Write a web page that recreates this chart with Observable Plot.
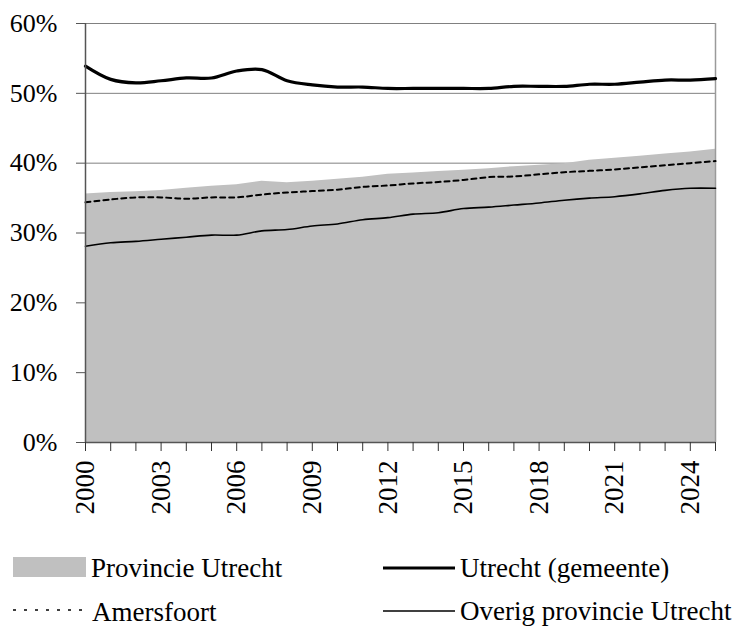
<!DOCTYPE html>
<html>
<head>
<meta charset="utf-8">
<script src="https://cdn.jsdelivr.net/npm/d3@7"></script>
<script src="https://cdn.jsdelivr.net/npm/@observablehq/plot@0.6"></script>
<style>
  html, body { margin: 0; padding: 0; background: white; }
  #wrap { position: relative; width: 737px; height: 627px; font-family: "Liberation Serif", serif; }
  #chart { position: absolute; left: 0; top: 0; }
  #legend { position: absolute; left: 0; top: 0; }
  #chart svg text { font-family: "Liberation Serif", serif; }
</style>
</head>
<body>
<div id="wrap">
  <div id="chart"></div>
  <svg id="legend" width="737" height="627" style="pointer-events:none"></svg>
</div>
<script>
const years = [2000,2001,2002,2003,2004,2005,2006,2007,2008,2009,2010,2011,2012,2013,2014,2015,2016,2017,2018,2019,2020,2021,2022,2023,2024,2025];
const labelYears = [2000,2003,2006,2009,2012,2015,2018,2021,2024];
const yTicks = [0,10,20,30,40,50,60];
const provincie = [35.6,35.8,35.9,36.1,36.4,36.7,36.9,37.4,37.2,37.4,37.7,38.0,38.4,38.6,38.8,39.0,39.2,39.5,39.7,39.9,40.4,40.7,41.0,41.3,41.6,42.0];
const utrecht   = [53.9,52.0,51.5,51.8,52.2,52.2,53.2,53.4,51.8,51.2,50.9,50.9,50.7,50.7,50.7,50.7,50.7,51.0,51.0,51.0,51.3,51.3,51.6,51.9,51.9,52.1];
const amersfoort= [34.4,34.8,35.1,35.1,34.9,35.1,35.1,35.5,35.8,36.0,36.2,36.6,36.8,37.1,37.3,37.6,38.0,38.1,38.4,38.7,38.9,39.1,39.4,39.7,40.0,40.3];
const overig    = [28.1,28.6,28.8,29.1,29.4,29.7,29.7,30.3,30.5,31.0,31.3,31.9,32.2,32.7,32.9,33.5,33.7,34.0,34.3,34.7,35.0,35.2,35.6,36.1,36.4,36.4];
const seriesNames = ["Provincie Utrecht","Utrecht (gemeente)","Amersfoort","Overig provincie Utrecht"];

const data = years.map((y, i) => ({year: y, provincie: provincie[i], utrecht: utrecht[i], amersfoort: amersfoort[i], overig: overig[i]}));

const chart = Plot.plot({
  width: 737,
  height: 530,
  marginLeft: 85,
  marginRight: 22,
  marginTop: 23,
  marginBottom: 88,
  x: {domain: [2000, 2025], label: null},
  y: {domain: [0, 60], label: null},
  style: {fontFamily: "Liberation Serif", fontSize: "26px", color: "black", background: "white", overflow: "visible"},
  marks: [
    Plot.gridY(yTicks.filter(d => d > 0), {stroke: "#808080", strokeOpacity: 1, strokeWidth: 1}),
    Plot.areaY(data, {x: "year", y: "provincie", fill: "#c0c0c0"}),
    Plot.ruleX([2025], {stroke: "#9a9a9a", strokeWidth: 1.5}),
    Plot.line(data, {x: "year", y: "overig", stroke: "black", strokeWidth: 1.6, curve: "catmull-rom"}),
    Plot.line(data, {x: "year", y: "amersfoort", stroke: "black", strokeWidth: 2, strokeDasharray: "5,4", curve: "catmull-rom"}),
    Plot.line(data, {x: "year", y: "utrecht", stroke: "black", strokeWidth: 3.2, curve: "catmull-rom"}),
    Plot.axisY({ticks: yTicks, tickFormat: d => d + "%", tickSize: 9, tickPadding: 19, stroke: "#555", fill: "black", fontSize: 26, fontFamily: "Liberation Serif"}),
    Plot.ruleX([2000], {stroke: "#555", strokeWidth: 1.5}),
    Plot.ruleY([0], {stroke: "#555", strokeWidth: 1.5}),
    Plot.axisX({ticks: years, tickFormat: () => "", tickSize: 9, stroke: "#333"}),
    Plot.axisX({ticks: labelYears, tickFormat: d => String(d), tickSize: 0, tickRotate: -90, tickPadding: 18, fontSize: 27, fill: "black", fontFamily: "Liberation Serif"})
  ]
});
document.getElementById("chart").appendChild(chart);

// legend
const lg = d3.select("#legend");
const font = "Liberation Serif";
lg.append("rect").attr("x", 13).attr("y", 557).attr("width", 73).attr("height", 20).attr("fill", "#c0c0c0");
lg.append("line").attr("x1", 383).attr("x2", 455).attr("y1", 568).attr("y2", 568).attr("stroke", "black").attr("stroke-width", 3);
lg.append("line").attr("x1", 13).attr("x2", 83).attr("y1", 610).attr("y2", 610).attr("stroke", "black").attr("stroke-width", 1.5).attr("stroke-dasharray", "3,8");
lg.append("line").attr("x1", 383).attr("x2", 455).attr("y1", 611).attr("y2", 611).attr("stroke", "black").attr("stroke-width", 1.5);
const lbl = [[seriesNames[0], 91, 577],[seriesNames[1], 460, 577],[seriesNames[2], 92, 621],[seriesNames[3], 460, 620]];
lbl.forEach(([t, x, y]) => lg.append("text").attr("x", x).attr("y", y).attr("font-family", font).attr("font-size", 27).attr("fill", "black").text(t));
</script>
</body>
</html>
